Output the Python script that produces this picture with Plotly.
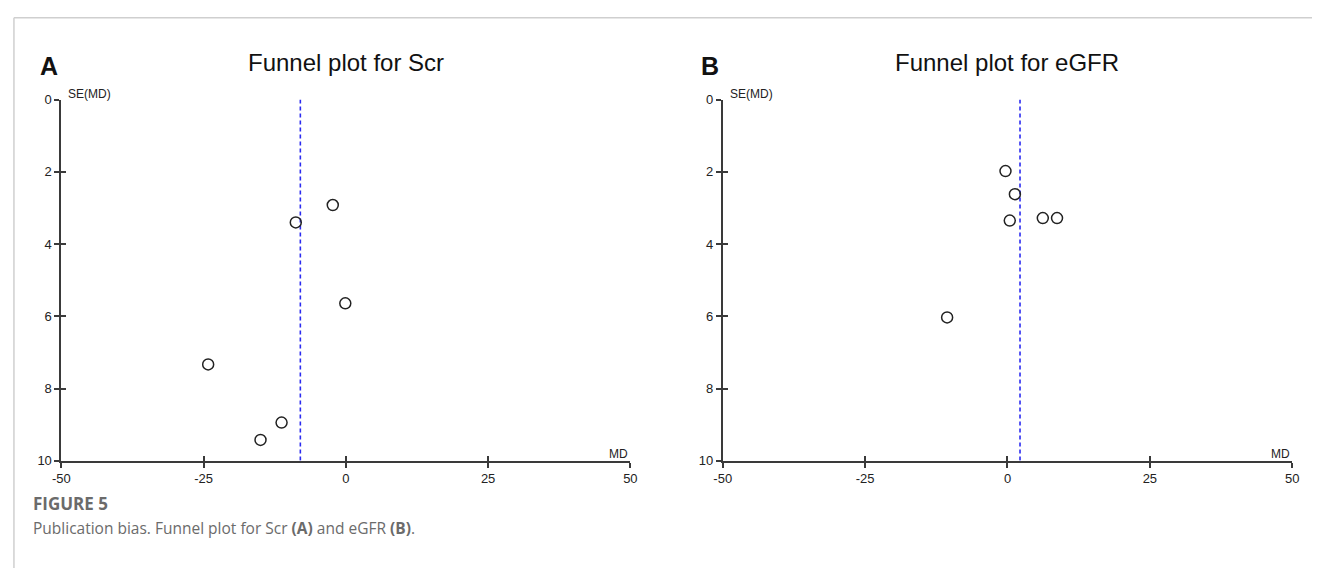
import plotly.graph_objects as go

# Study estimates: mean difference (MD) and its standard error, per outcome
scr_md = [-2.3, -8.8, -0.1, -24.2, -11.3, -15.0]
scr_se = [2.92, 3.40, 5.64, 7.33, 8.94, 9.42]
scr_pooled = -8.0

egfr_md = [-0.35, 1.3, 0.4, 6.2, 8.7, -10.6]
egfr_se = [1.98, 2.62, 3.35, 3.28, 3.28, 6.03]
egfr_pooled = 2.2

x_ticks = [-50, -25, 0, 25, 50]
y_ticks = [0, 2, 4, 6, 8, 10]
x_range = [-50, 50]
y_range = [10, 0]

panel_titles = ["Funnel plot for Scr", "Funnel plot for eGFR"]
panel_letters = ["A", "B"]

W, H = 1319, 576
CHART_FONT = "Liberation Sans, Arial, sans-serif"
CAPTION_FONT = "Open Sans, Noto Sans, sans-serif"
AXIS_COLOR = "#3a3a3a"

# Plot-area placement in pixels, converted to paper fractions
ax_left = [53, 722.5]
ax_right = [629, 1299]
ax_top, ax_bottom = 95, 466


def px(x):
    return x / W


def py(y):
    return 1 - y / H


fig = go.Figure()

panels = [(scr_md, scr_se, scr_pooled), (egfr_md, egfr_se, egfr_pooled)]
for i, (md, se, pooled) in enumerate(panels):
    xa = "x" if i == 0 else "x2"
    ya = "y" if i == 0 else "y2"
    # pooled estimate
    fig.add_trace(go.Scatter(
        x=[pooled, pooled], y=[y_range[1], y_range[0]], mode="lines",
        line=dict(color="#2b2bf0", width=1.6, dash="4px,3px"),
        xaxis=xa, yaxis=ya, showlegend=False, hoverinfo="skip"))
    # individual studies
    fig.add_trace(go.Scatter(
        x=md, y=se, mode="markers",
        marker=dict(symbol="circle-open", size=11, color="#222222",
                    line=dict(width=1.5, color="#222222")),
        xaxis=xa, yaxis=ya, showlegend=False))

layout = dict(
    width=W, height=H,
    margin=dict(l=0, r=0, t=0, b=0),
    paper_bgcolor="white", plot_bgcolor="white",
    showlegend=False,
    font=dict(family=CHART_FONT, color="#222222"),
)

for i in range(2):
    sfx = "" if i == 0 else "2"
    xname, yname = "xaxis" + sfx, "yaxis" + sfx
    xref, yref = "x" + sfx, "y" + sfx
    xdom = [px(ax_left[i]), px(ax_right[i])]
    ydom = [py(ax_bottom), py(ax_top)]
    layout[xname] = dict(
        domain=xdom, range=x_range, anchor=yref,
        tickvals=x_ticks, ticktext=[str(v) for v in x_ticks],
        ticks="outside", ticklen=5, tickwidth=1.5, tickcolor=AXIS_COLOR,
        showline=True, linecolor=AXIS_COLOR, linewidth=1.8,
        showgrid=False, zeroline=False,
        tickfont=dict(size=13, family=CHART_FONT, color="#222222"),
    )
    layout[yname] = dict(
        domain=ydom, range=y_range, anchor=xref,
        tickvals=y_ticks, ticktext=[str(v) for v in y_ticks],
        ticks="outside", ticklen=5, tickwidth=1.5, tickcolor=AXIS_COLOR,
        showline=True, linecolor=AXIS_COLOR, linewidth=1.8,
        showgrid=False, zeroline=False,
        tickfont=dict(size=13, family=CHART_FONT, color="#222222"),
    )
    # Overlay axes carrying the inner half of each crossing tick
    ox, oy = "xaxis" + str(3 + 2 * i), "yaxis" + str(3 + 2 * i)
    layout[ox] = dict(
        domain=xdom, range=x_range, overlaying=xref, matches=xref, anchor=yref,
        tickvals=x_ticks, ticks="inside", ticklen=5, tickwidth=1.5,
        tickcolor=AXIS_COLOR, showticklabels=False, showline=False,
        showgrid=False, zeroline=False,
    )
    layout[oy] = dict(
        domain=ydom, range=y_range, overlaying=yref, matches=yref, anchor=xref,
        tickvals=y_ticks, ticks="inside", ticklen=5, tickwidth=1.5,
        tickcolor=AXIS_COLOR, showticklabels=False, showline=False,
        showgrid=False, zeroline=False,
    )

fig.update_layout(**layout)

# Empty traces so the overlay axes are drawn
for i in range(2):
    fig.add_trace(go.Scatter(x=[None], y=[None], xaxis="x" + str(3 + 2 * i),
                             yaxis="y" + str(3 + 2 * i), showlegend=False))

annotations = []
for i in range(2):
    sfx = "" if i == 0 else "2"
    center = (ax_left[i] + ax_right[i]) / 2
    annotations.append(dict(
        text=panel_titles[i], x=px(center), y=py(57), xref="paper", yref="paper",
        xanchor="center", yanchor="middle", showarrow=False,
        font=dict(size=24, family=CHART_FONT, color="#111111")))
    annotations.append(dict(
        text="<b>" + panel_letters[i] + "</b>", x=px(ax_left[i] - 24), y=py(61),
        xref="paper", yref="paper", xanchor="left", yanchor="middle",
        showarrow=False,
        font=dict(size=25, family=CHART_FONT, color="#111111")))
    annotations.append(dict(
        text="SE(MD)", x=x_range[0], y=y_range[1], xref="x" + sfx, yref="y" + sfx,
        xanchor="left", yanchor="bottom", xshift=5, yshift=-3, showarrow=False,
        font=dict(size=12, family=CHART_FONT, color="#222222")))
    annotations.append(dict(
        text="MD", x=x_range[1], y=y_range[0], xref="x" + sfx, yref="y" + sfx,
        xanchor="right", yanchor="bottom", yshift=-2, showarrow=False,
        font=dict(size=12, family=CHART_FONT, color="#222222")))

# Figure caption
annotations.append(dict(
    text="<b>FIGURE 5</b>", x=px(22), y=py(510), xref="paper", yref="paper",
    xanchor="left", yanchor="middle", showarrow=False,
    font=dict(size=17, family=CAPTION_FONT, color="#6b6b6b")))
annotations.append(dict(
    text="Publication bias. Funnel plot for Scr <b>(A)</b> and eGFR <b>(B)</b>.",
    x=px(22), y=py(535), xref="paper", yref="paper",
    xanchor="left", yanchor="middle", showarrow=False,
    font=dict(size=15.5, family=CAPTION_FONT, color="#6b6b6b")))

fig.update_layout(annotations=annotations)

# Light frame along the top and left edges of the figure
fig.add_shape(type="line", xref="paper", yref="paper",
              x0=px(5), x1=1, y0=py(11), y1=py(11),
              line=dict(color="#cfcfcf", width=1.5))
fig.add_shape(type="line", xref="paper", yref="paper",
              x0=px(5), x1=px(5), y0=py(11), y1=0,
              line=dict(color="#cfcfcf", width=1.5))

fig.write_html("out.html")
